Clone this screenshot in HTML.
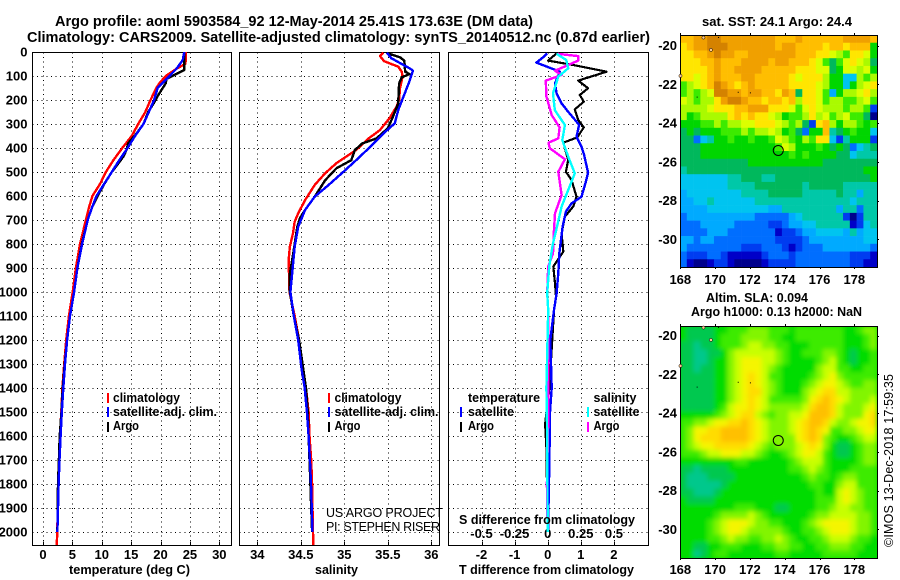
<!DOCTYPE html>
<html>
<head>
<meta charset="utf-8">
<title>Argo profile</title>
<style>
html,body{margin:0;padding:0;background:#fff;width:900px;height:580px;overflow:hidden}
svg{display:block}
text{font-family:"Liberation Sans",sans-serif;font-weight:bold;font-size:13px;fill:#000}
.title{font-size:14.5px}
.thin{font-weight:normal;font-size:12.5px}
</style>
</head>
<body>
<svg id="chart" xmlns="http://www.w3.org/2000/svg" width="900" height="580" viewBox="0 0 900 580">
  <defs>
    <clipPath id="clipT"><rect x="32" y="52" width="199" height="493"/></clipPath>
    <clipPath id="clipS"><rect x="239" y="52" width="200" height="493"/></clipPath>
    <clipPath id="clipD"><rect x="448" y="52" width="200" height="493"/></clipPath>
    <clipPath id="clipM2"><rect x="680" y="326" width="197" height="232"/></clipPath>
    <filter id="smooth" x="-5%" y="-5%" width="110%" height="110%"><feGaussianBlur stdDeviation="2.4"/></filter>
  </defs>
  <rect width="900" height="580" fill="#fff"/>
  <g id="layer-map1"></g>
  <g clip-path="url(#clipM2)">
    <rect x="680" y="326" width="197" height="232" fill="#00dc00"/>
    <g id="layer-map2" filter="url(#smooth)"></g>
  </g>
  <g id="layer-axes"></g>
  <g id="layer-t" clip-path="url(#clipT)"></g>
  <g id="layer-s" clip-path="url(#clipS)"></g>
  <g id="layer-d" clip-path="url(#clipD)"></g>

  <text class="title" x="55" y="26" textLength="478" lengthAdjust="spacingAndGlyphs">Argo profile: aoml 5903584_92 12-May-2014 25.41S 173.63E (DM data)</text>
  <text class="title" x="27" y="42" textLength="623" lengthAdjust="spacingAndGlyphs">Climatology: CARS2009. Satellite-adjusted climatology: synTS_20140512.nc (0.87d earlier)</text>

  <text x="69" y="574" textLength="121" lengthAdjust="spacingAndGlyphs">temperature (deg C)</text>
  <text x="315" y="574" textLength="43" lengthAdjust="spacingAndGlyphs">salinity</text>
  <text x="459" y="574" textLength="175" lengthAdjust="spacingAndGlyphs">T difference from climatology</text>
  <text x="459" y="524" textLength="176" lengthAdjust="spacingAndGlyphs">S difference from climatology</text>

  <g>
    <rect x="107" y="393" width="2" height="10" fill="#f00"/>
    <text x="113" y="402" textLength="67" lengthAdjust="spacingAndGlyphs">climatology</text>
    <rect x="107" y="407" width="2" height="10" fill="#00f"/>
    <text x="113" y="416" textLength="104" lengthAdjust="spacingAndGlyphs">satellite-adj. clim.</text>
    <rect x="107" y="422" width="2" height="10" fill="#000"/>
    <text x="113" y="430" textLength="26" lengthAdjust="spacingAndGlyphs">Argo</text>
  </g>
  <g>
    <rect x="328" y="393" width="2" height="10" fill="#f00"/>
    <text x="334.5" y="402" textLength="67" lengthAdjust="spacingAndGlyphs">climatology</text>
    <rect x="328" y="407" width="2" height="10" fill="#00f"/>
    <text x="334.5" y="416" textLength="104" lengthAdjust="spacingAndGlyphs">satellite-adj. clim.</text>
    <rect x="328" y="422" width="2" height="10" fill="#000"/>
    <text x="334.5" y="430" textLength="26" lengthAdjust="spacingAndGlyphs">Argo</text>
  </g>
  <g>
    <text x="468" y="402" textLength="72" lengthAdjust="spacingAndGlyphs">temperature</text>
    <rect x="460" y="407" width="2" height="10" fill="#00f"/>
    <text x="468" y="416" textLength="46" lengthAdjust="spacingAndGlyphs">satellite</text>
    <rect x="460" y="422" width="2" height="10" fill="#000"/>
    <text x="468" y="430" textLength="26" lengthAdjust="spacingAndGlyphs">Argo</text>
    <text x="593.5" y="402" textLength="43" lengthAdjust="spacingAndGlyphs">salinity</text>
    <rect x="587" y="407" width="2" height="10" fill="#0ff"/>
    <text x="593.5" y="416" textLength="46" lengthAdjust="spacingAndGlyphs">satellite</text>
    <rect x="587" y="422" width="2" height="10" fill="#f0f"/>
    <text x="593.5" y="430" textLength="26" lengthAdjust="spacingAndGlyphs">Argo</text>
  </g>

  <text class="thin" x="326" y="517" textLength="117" lengthAdjust="spacing">US ARGO PROJECT</text>
  <text class="thin" x="326" y="531" textLength="114" lengthAdjust="spacing">PI: STEPHEN RISER</text>

  <text x="702" y="26" textLength="150" lengthAdjust="spacingAndGlyphs">sat. SST: 24.1 Argo: 24.4</text>
  <text x="706" y="302" textLength="102" lengthAdjust="spacingAndGlyphs">Altim. SLA: 0.094</text>
  <text x="691" y="316" textLength="171" lengthAdjust="spacingAndGlyphs">Argo h1000: 0.13 h2000: NaN</text>
  <text class="thin" transform="translate(893,547) rotate(-90)" x="0" y="0" textLength="173" lengthAdjust="spacing">©IMOS 13-Dec-2018 17:59:35</text>
</svg>

<script>
// ---------- tick labels ----------
const depthTicks = [0,100,200,300,400,500,600,700,800,900,1000,1100,1200,1300,1400,1500,1600,1700,1800,1900,2000];
const tempTicks = [0,5,10,15,20,25,30];
const salTicks = ["34","34.5","35","35.5","36"];
const tDiffTicks = ["-2","-1","0","1","2"];
const sDiffTicks = ["-0.5","-0.25","0","0.25","0.5"];
const lonTicks = [168,170,172,174,176,178];
const latTicks = [-20,-22,-24,-26,-28,-30];

// ---------- temperature profiles ----------
const tempClimDepth = [0,35,50,70,100,130,150,200,250,300,350,400,450,500,550,600,650,700,800,900,1000,1100,1200,1300,1400,1500,1600,1700,1800,1900,2000,2055];
const tempClimValue = [24.3,24.3,24.2,22.7,20.9,19.8,19.3,18.3,17.4,16.2,15.1,13.5,12,10.7,9.7,8.4,7.8,7.3,6.3,5.6,5.05,4.4,3.95,3.6,3.3,3.12,2.9,2.72,2.6,2.5,2.44,2.33];
const tempSatDepth = [0,30,40,70,105,125,150,200,250,300,350,400,450,500,550,600,650,700,800,900,1000,1100,1200,1300,1400,1500,1600,1700,1800,1900,2000];
const tempSatValue = [24.05,23.8,23.6,22.7,21.3,20.5,19.5,18.9,18,17.1,15.65,14.4,13,11.7,10.4,9.1,8.3,7.6,6.65,5.85,5.3,4.6,4.1,3.75,3.45,3.2,3,2.8,2.65,2.55,2.45];
const tempArgoDepth = [0,75,112,130,180,215,250,300,340,380,408,435,465,500,547,595,650,700,800,900,1000,1100,1200,1300,1400,1500,1600,1700,1800,1900,2000];
const tempArgoValue = [24.05,24.05,21,20.9,19.6,18.8,17.9,17.1,15.9,14.5,14.2,13.7,12.8,11.7,10.5,9.4,8.3,7.6,6.6,5.85,5.3,4.6,4.1,3.7,3.35,3.15,2.85,2.7,2.55,2.5,2.45];

// ---------- salinity profiles ----------
const salClimDepth = [3,17,38,50,61,82,103,151,200,228,276,325,360,407,463,505,554,617,672,707,755,811,867,1000,1100,1200,1325,1400,1500,1600,1700,1800,1900,2000,2055];
const salClimValue = [35.45,35.41,35.456,35.54,35.62,35.66,35.67,35.64,35.63,35.6,35.52,35.41,35.28,35.14,34.91,34.78,34.66,34.55,34.47,34.43,34.41,34.375,34.36,34.37,34.43,34.48,34.52,34.56,34.59,34.6,34.62,34.63,34.635,34.64,34.645];
const salSatDepth = [3,26,54,68,78,130,186,242,297,339,394,443,499,554,603,658,728,811,1000,1100,1200,1325,1400,1500,1600,1700,1800,1900,2000];
const salSatValue = [35.49,35.54,35.68,35.75,35.79,35.74,35.68,35.62,35.58,35.45,35.3,35.16,34.99,34.82,34.66,34.55,34.47,34.43,34.38,34.42,34.47,34.51,34.545,34.57,34.59,34.605,34.617,34.625,34.635];
const salArgoDepth = [6,22,36,82,92,106,131,214,269,318,360,382,410,451,484,534,603,658,693,728,846,922,1000,1100,1200,1325,1400,1500,1600,1700,1800,1900,2000];
const salArgoValue = [35.5,35.64,35.69,35.7,35.75,35.66,35.63,35.62,35.56,35.5,35.37,35.2,35.12,35.08,34.91,34.78,34.66,34.55,34.49,34.46,34.41,34.375,34.375,34.42,34.48,34.53,34.56,34.58,34.59,34.6,34.61,34.62,34.63];

// ---------- difference profiles ----------
const tDiffSatDepth = [6,22,44,82,131,172,214,249,290,304,353,394,429,503,547,603,631,665,728,797,839,922,1006,1075,1200,1400,1500,1700,2000];
const tDiffSatValue = [-0.02,-0.14,-0.34,0.37,0.22,0.27,0.42,0.62,0.87,0.95,0.87,1.02,1.1,1.22,1.14,1.02,0.72,0.55,0.45,0.39,0.35,0.32,0.27,0.19,0.08,0.12,0.07,0.05,0.01];
const tDiffArgoDepth = [6,36,54,82,119,151,179,207,239,283,314,356,378,450,499,533,603,644,686,756,832,894,964,1019,1075,1400,1550,1650,2000];
const tDiffArgoValue = [0.27,0.01,0.77,1.78,0.92,1.22,0.97,1.09,0.82,0.92,1.09,0.89,0.47,0.62,0.55,0.72,0.87,0.77,0.52,0.42,0.47,0.17,0.22,0.25,0.19,0.05,-0.08,-0.04,0];
const sDiffArgoDepth = [8,17,36,54,78,96,119,186,263,314,360,378,401,447,499,596,672,756,839,894,1006,1075,1500,1800,2000];
const sDiffArgoValue = [0.08,0.23,0.23,0.155,0.055,0.105,-0.014,-0.01,0.03,0.09,0.08,0.006,0.016,0.13,0.08,0.105,0.055,0.046,0.04,0.004,-0.004,0.004,0.005,-0.006,0];
const sDiffSatDepth = [8,33,68,103,172,242,304,367,436,506,575,644,728,797,894,1006,1075,1400,1600,2000];
const sDiffSatValue = [0.067,0.14,0.155,0.08,0.04,0.054,0.13,0.11,0.155,0.205,0.155,0.105,0.07,0.04,0.011,-0.004,0.004,-0.01,-0.004,0];

// ---------- map cell levels ----------
const sstRows = [
"ddeeffeeeeeeeedddeddddddeeeed",
"cdeefffeeeeeeedeeddddcddcddd8",
"ccddefeeddeeeeeeedddccba9ccb8",
"cccddedddeeeedeedddcb979bcba7",
"ccccdeddeeeedddddcccbb78bbab8",
"ccbcdedddeedddddcbccca8855a9a",
"9abcdfedcdedddddccccba8858abc",
"9a9abffeedeeddced7ccb948aabca",
"ba9aaceffeddcddcdaccb9aa99ab9",
"aaaabcccddeeecccb9bcbaaa9aa92",
"a89aaaacdcdccba899acab9ab9970",
"88899a9aabbcccba9a72cda8aa989",
"787888999a9aaba897388d6789885",
"77356889889889ba98a9cc5268882",
"77788888888888 9ba88898 78735 67".replace(/ /g,""),
"77788888888888889898888775666",
"77777777778888888888877777777",
"67777777777777777777777777788",
"55555556677766777777777777778",
"55555556666777777767777766666",
"45555555566667777766666766466",
"44556555555666666666666665666",
"44445555555554466666666466366",
"34444444444333334566666620266",
"33344444333332234455666661256",
"33334443333333122344555546455",
"44344333333333222234444444455",
"43333333322233321233344444443",
"32223321111123332333333332221",
"31001221000012222333333332211"
];
const slaRows = [
"21111223334443332333333322344",
"21111233344443322333333322234",
"11011233345544332223333322234",
"11001124555555432233344321223",
"11001224566655432222345321223",
"11011224566654322222455332233",
"11111224567653322223456433333",
"11111224567654322234566543344",
"11111224567754322245677554444",
"11111224567653333346787654445",
"11111235667654444457887544456",
"22222345677543445568887544467",
"33445667787654445678875445667",
"34667788887654445678763344566",
"34677788887654444678743223455",
"34566777776543444567642112344",
"33345566655432234566532112344",
"22222222332222223455532222344",
"11011112222222223345432223333",
"10001111222222222234332344333",
"10000012222222222223322455333",
"11000122222222222222322565433",
"21111222222222222222333565433",
"22222222333222112222334554433",
"22222344445432222223445555443",
"22223456665443322234566665443",
"22223456654444432233456665443",
"22223345443344543223345554332",
"22112233322233443322334443322",
"22012332222222332222233333222"
];
const sstColors = {"0":"#00008c","1":"#0000c8","2":"#003cf0","3":"#006eff","4":"#00aaff","5":"#00c4f0","6":"#00c8a8","7":"#00b85c","8":"#00d600","9":"#3ceb00",a:"#aafa00",b:"#dcff00",c:"#ffe600",d:"#ffbe00",e:"#f0a000",f:"#d48200"};
const slaColors = {"0":"#00c88c","1":"#00c850","2":"#00dc00","3":"#3ceb00","4":"#82f500","5":"#c8ff00","6":"#f5f500","7":"#ffdc00","8":"#ffc000"};

// ---------- map annotations ----------
const floatLon = 173.63;
const floatLat = -25.41;
const landLon = [169.33,169.76,168.01];
const landLat = [-19.58,-20.22,-21.56];
const reefLon = [170.17,171.3,172,168.94];
const reefLat = [-19.55,-22.38,-22.41,-22.63];

// ---------- axis functions ----------
const yDepth = d => 52 + 0.24 * d;
const xTemp = t => 43 + 5.877 * t;
const xSal = s => 257.3 + 87 * (s - 34);
const xTDiff = t => 547.7 + 33.1 * t;
const xSDiff = s => 547.7 + 132.4 * s;
const xLon = l => 680.3 + 17.4 * (l - 168);
const yLat1 = l => 45.7 + 19.36 * (-20 - l);
const yLat2 = l => 335.7 + 19.36 * (-20 - l);

const NS = "http://www.w3.org/2000/svg";
function el(tag, parent, attrs) {
  const e = document.createElementNS(NS, tag);
  for (const k in attrs) e.setAttribute(k, attrs[k]);
  parent.appendChild(e);
  return e;
}
const axes = document.getElementById("layer-axes");

function drawPanel(x0, x1, name, tickXs, tickLabels, xLabelBaseline) {
  const top = 52.5, bottom = 545.5;
  depthTicks.forEach(d => {
    if (d === 0) return;
    const y = Math.round(yDepth(d)) + 0.5;
    const g = el("line", axes, {x1:x0, x2:x1, y1:y, y2:y, stroke:"#000", "stroke-width":1, "stroke-dasharray":"1 3.6", "shape-rendering":"crispEdges"});
    
    
  });
  tickXs.forEach((x, i) => {
    const px = Math.round(x) + 0.5;
    const g = el("line", axes, {x1:px, x2:px, y1:top, y2:bottom, stroke:"#000", "stroke-width":1, "stroke-dasharray":"1 3.6", "shape-rendering":"crispEdges"});
    
    
    const t = el("line", axes, {x1:px, x2:px, y1:bottom - 4, y2:bottom, stroke:"#000", "stroke-width":1, "shape-rendering":"crispEdges"});
    
    
    const lab = el("text", axes, {x:x, y:xLabelBaseline, "text-anchor":"middle"});
    lab.textContent = tickLabels[i];
    
    
  });
  const frame = el("rect", axes, {x:x0, y:top, width:x1 - x0, height:bottom - top, fill:"none", stroke:"#000", "stroke-width":1, "shape-rendering":"crispEdges"});
  
  
}
drawPanel(32.5, 231.5, "temperature-panel", tempTicks.map(xTemp), tempTicks, 559);
drawPanel(239.5, 439.5, "salinity-panel", salTicks.map(Number).map(xSal), salTicks, 559);
drawPanel(448.5, 648.5, "difference-panel", tDiffTicks.map(Number).map(xTDiff), tDiffTicks, 559);

sDiffTicks.forEach(v => {
  const lab = el("text", axes, {x:xSDiff(Number(v)), y:538, "text-anchor":"middle"});
  lab.textContent = v;
  
  
});

depthTicks.forEach(d => {
  const lab = el("text", axes, {x:27.5, y:yDepth(d) + 4.5, "text-anchor":"end"});
  lab.textContent = d;
  
  
});

function drawLine(layerId, xs, ds, xScale, color, width, name) {
  const pts = xs.map((v, i) => xScale(v).toFixed(1) + "," + yDepth(ds[i]).toFixed(1)).join(" ");
  const line = el("polyline", document.getElementById(layerId), {points:pts, fill:"none", stroke:color, "stroke-width":width, "stroke-linejoin":"round", "shape-rendering":"crispEdges"});
  
  
}
drawLine("layer-t", tempClimValue, tempClimDepth, xTemp, "#f00", 2.4, "temperature-climatology-line");
drawLine("layer-t", tempArgoValue, tempArgoDepth, xTemp, "#000", 2.4, "temperature-argo-line");
drawLine("layer-t", tempSatValue, tempSatDepth, xTemp, "#00f", 2.4, "temperature-satellite-line");
drawLine("layer-s", salClimValue, salClimDepth, xSal, "#f00", 2.4, "salinity-climatology-line");
drawLine("layer-s", salArgoValue, salArgoDepth, xSal, "#000", 2.4, "salinity-argo-line");
drawLine("layer-s", salSatValue, salSatDepth, xSal, "#00f", 2.4, "salinity-satellite-line");
drawLine("layer-d", tDiffArgoValue, tDiffArgoDepth, xTDiff, "#000", 2.2, "t-difference-argo-line");
drawLine("layer-d", tDiffSatValue, tDiffSatDepth, xTDiff, "#00f", 2.4, "t-difference-satellite-line");
drawLine("layer-d", sDiffArgoValue, sDiffArgoDepth, xSDiff, "#f0f", 2.4, "s-difference-argo-line");
drawLine("layer-d", sDiffSatValue, sDiffSatDepth, xSDiff, "#0ff", 2.4, "s-difference-satellite-line");

function drawCells(layerId, rows, colors, x0, y0, w, h, name) {
  const layer = document.getElementById(layerId);
  const cols = 29;
  const cw = w / cols, ch = h / rows.length;
  rows.forEach((row, r) => {
    for (let c = 0; c < row.length && c < cols; c++) {
      const cell = el("rect", layer, {x:(x0 + c * cw).toFixed(2), y:(y0 + r * ch).toFixed(2), width:(cw + 0.3).toFixed(2), height:(ch + 0.3).toFixed(2), fill:colors[row[c]]});
      
      
    }
  });
}
drawCells("layer-map1", sstRows, sstColors, 680, 35, 197, 232, "sst-cell");
drawCells("layer-map2", slaRows, slaColors, 680, 326, 197, 232, "sla-cell");

function drawMapFrame(x0, y0, w, h, yLat, labelBaseline, name) {
  const frame = el("rect", axes, {x:x0 + 0.5, y:y0 + 0.5, width:w, height:h, fill:"none", stroke:"#000", "stroke-width":1, "shape-rendering":"crispEdges"});
  
  
  lonTicks.forEach(l => {
    const x = Math.round(xLon(l)) + 0.5;
    const top = el("line", axes, {x1:x, x2:x, y1:y0 - 2, y2:y0, stroke:"#000", "shape-rendering":"crispEdges"});
    
    
    const bot = el("line", axes, {x1:x, x2:x, y1:y0 + h, y2:y0 + h + 2, stroke:"#000", "shape-rendering":"crispEdges"});
    
    
    const lab = el("text", axes, {x:xLon(l), y:labelBaseline, "text-anchor":"middle"});
    lab.textContent = l;
    
    
  });
  latTicks.forEach(l => {
    const y = Math.round(yLat(l)) + 0.5;
    const tick = el("line", axes, {x1:x0 + w, x2:x0 + w + 2, y1:y, y2:y, stroke:"#000", "shape-rendering":"crispEdges"});
    
    
    const lab = el("text", axes, {x:677, y:yLat(l) + 4.5, "text-anchor":"end"});
    lab.textContent = l;
    
    
  });
  landLon.forEach((lon, i) => {
    const land = el("circle", axes, {cx:xLon(lon), cy:yLat(landLat[i]), r:1.6, fill:"#ffc890", stroke:"#000", "stroke-width":0.5});
    
    
  });
  reefLon.forEach((lon, i) => {
    const reef = el("rect", axes, {x:xLon(lon), y:yLat(reefLat[i]), width:1, height:1, fill:"#000"});
    
    
  });
  const m = el("circle", axes, {cx:xLon(floatLon), cy:yLat(floatLat), r:5, fill:"none", stroke:"#000", "stroke-width":1});
  
  
}
drawMapFrame(680, 35, 197, 232, yLat1, 284, "sst-map");
drawMapFrame(680, 326, 197, 232, yLat2, 574, "sla-map");
</script>
</body>
</html>
